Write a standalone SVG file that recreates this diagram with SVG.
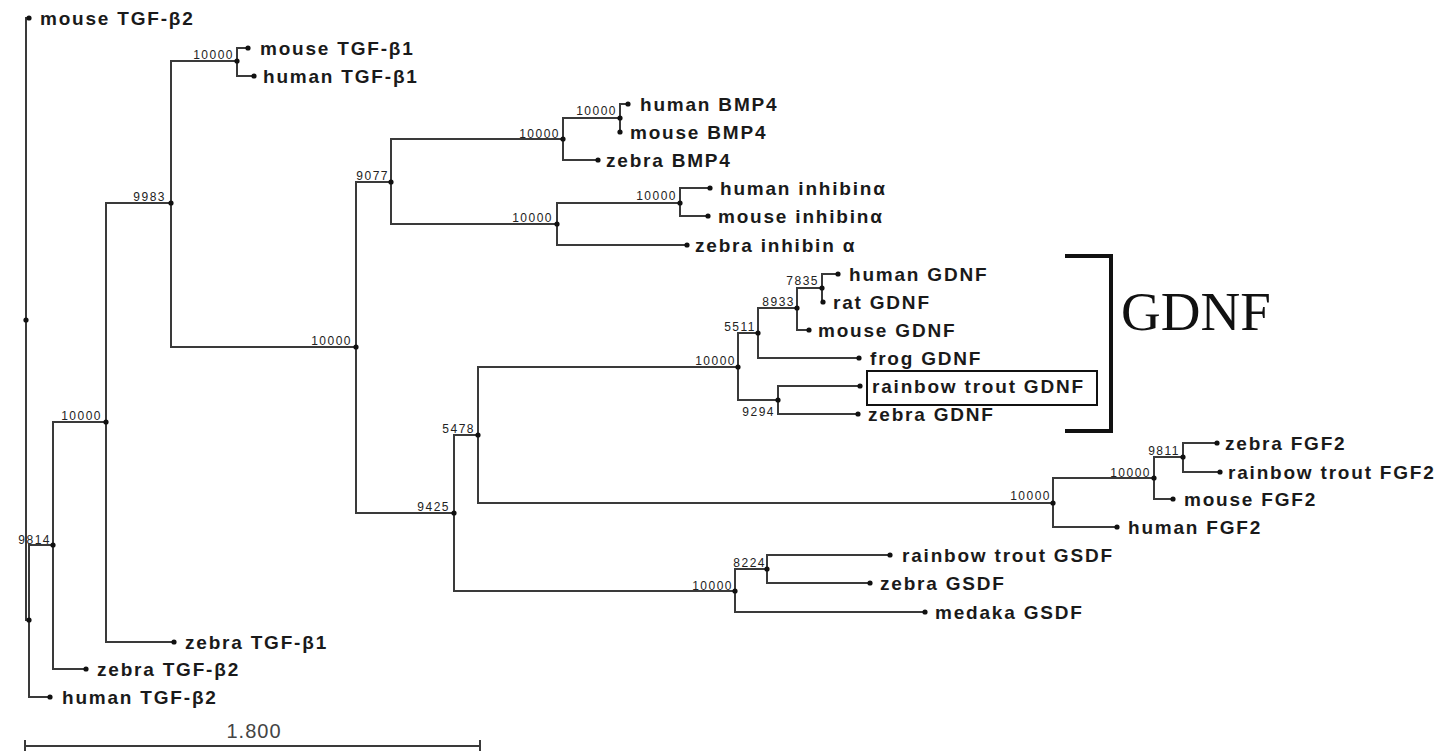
<svg xmlns="http://www.w3.org/2000/svg" width="1443" height="751" viewBox="0 0 1443 751">
<style>
.bg{fill:#ffffff}
.br{fill:none;stroke:#3a3a3a;stroke-width:2}
.dot{fill:#111}
.lf{font-family:"Liberation Sans",Arial,sans-serif;font-weight:bold;font-size:19px;letter-spacing:1.8px;fill:#1a1a1a}
.bs{font-family:"Liberation Sans",Arial,sans-serif;font-size:12px;letter-spacing:1.5px;fill:#222;text-anchor:end}
.big{font-family:"Liberation Serif","Times New Roman",serif;font-size:55px;fill:#111}
.scl{font-family:"Liberation Sans",Arial,sans-serif;font-size:20px;letter-spacing:1px;fill:#444;text-anchor:middle}
</style>
<rect class="bg" x="0" y="0" width="1443" height="751"/>
<g id="connectors">
<path class="br" d="M29 18 H26 V620 H29"/>
<path class="br" d="M53 545 H29 V697 H50"/>
<path class="br" d="M106 422 H53 V669 H86"/>
<path class="br" d="M171 203 H106 V642 H174"/>
<path class="br" d="M237 61 H171 V347 H356"/>
<path class="br" d="M248 48 H237 V76 H254"/>
<path class="br" d="M391 182 H356 V513 H454"/>
<path class="br" d="M563 139 H391 V224 H557"/>
<path class="br" d="M620 118 H563 V160 H598"/>
<path class="br" d="M628 104 H620 V132"/>
<path class="br" d="M680 203 H557 V245 H687"/>
<path class="br" d="M710 188 H680 V216 H708"/>
<path class="br" d="M478 435 H454 V591 H735"/>
<path class="br" d="M738 367 H478 V503 H1053"/>
<path class="br" d="M758 333 H738 V400 H778"/>
<path class="br" d="M797 308 H758 V358 H859"/>
<path class="br" d="M822 288 H797 V330 H809"/>
<path class="br" d="M838 274 H822 V302 H823"/>
<path class="br" d="M860 386 H778 V414 H858"/>
<path class="br" d="M1154 478 H1053 V527 H1117"/>
<path class="br" d="M1183 457 H1154 V499 H1173"/>
<path class="br" d="M1217 443 H1183 V472 H1220"/>
<path class="br" d="M767 569 H735 V612 H925"/>
<path class="br" d="M890 555 H767 V583 H870"/>
</g>
<g id="internal-nodes">
<g id="n-root"><circle class="dot" cx="26" cy="320" r="2.6"/></g>
<g id="n-a"><circle class="dot" cx="29" cy="620" r="2.6"/></g>
<g id="n-9814"><circle class="dot" cx="53" cy="545" r="2.6"/><text class="bs" x="51" y="544">9814</text></g>
<g id="n-10000-a"><circle class="dot" cx="106" cy="422" r="2.6"/><text class="bs" x="102" y="420">10000</text></g>
<g id="n-9983"><circle class="dot" cx="171" cy="203" r="2.6"/><text class="bs" x="166" y="201">9983</text></g>
<g id="n-10000-tgfb1"><circle class="dot" cx="237" cy="61" r="2.6"/><text class="bs" x="234" y="59">10000</text></g>
<g id="n-10000-b"><circle class="dot" cx="356" cy="347" r="2.6"/><text class="bs" x="352" y="345">10000</text></g>
<g id="n-9077"><circle class="dot" cx="391" cy="182" r="2.6"/><text class="bs" x="389" y="180">9077</text></g>
<g id="n-10000-bmp"><circle class="dot" cx="563" cy="139" r="2.6"/><text class="bs" x="560" y="138">10000</text></g>
<g id="n-10000-bmp2"><circle class="dot" cx="620" cy="118" r="2.6"/><text class="bs" x="617" y="115">10000</text></g>
<g id="n-10000-inh"><circle class="dot" cx="557" cy="224" r="2.6"/><text class="bs" x="553" y="222">10000</text></g>
<g id="n-10000-inh2"><circle class="dot" cx="680" cy="203" r="2.6"/><text class="bs" x="677" y="200">10000</text></g>
<g id="n-9425"><circle class="dot" cx="454" cy="513" r="2.6"/><text class="bs" x="450" y="511">9425</text></g>
<g id="n-5478"><circle class="dot" cx="478" cy="435" r="2.6"/><text class="bs" x="475" y="433">5478</text></g>
<g id="n-10000-gdnf"><circle class="dot" cx="738" cy="367" r="2.6"/><text class="bs" x="736" y="365">10000</text></g>
<g id="n-5511"><circle class="dot" cx="758" cy="333" r="2.6"/><text class="bs" x="756" y="331">5511</text></g>
<g id="n-8933"><circle class="dot" cx="797" cy="308" r="2.6"/><text class="bs" x="795" y="306">8933</text></g>
<g id="n-7835"><circle class="dot" cx="822" cy="288" r="2.6"/><text class="bs" x="819" y="285">7835</text></g>
<g id="n-9294"><circle class="dot" cx="778" cy="400" r="2.6"/><text class="bs" x="775" y="416">9294</text></g>
<g id="n-10000-fgf"><circle class="dot" cx="1053" cy="503" r="2.6"/><text class="bs" x="1051" y="500">10000</text></g>
<g id="n-10000-fgf2"><circle class="dot" cx="1154" cy="478" r="2.6"/><text class="bs" x="1151" y="477">10000</text></g>
<g id="n-9811"><circle class="dot" cx="1183" cy="457" r="2.6"/><text class="bs" x="1180" y="455">9811</text></g>
<g id="n-10000-gsdf"><circle class="dot" cx="735" cy="591" r="2.6"/><text class="bs" x="733" y="590">10000</text></g>
<g id="n-8224"><circle class="dot" cx="767" cy="569" r="2.6"/><text class="bs" x="766" y="567">8224</text></g>
</g>
<g id="leaves">
<g id="l-mouse-tgfb2"><circle class="dot" cx="29" cy="18" r="2.6"/><text class="lf" x="40" y="25">mouse TGF-β2</text></g>
<g id="l-mouse-tgfb1"><circle class="dot" cx="248" cy="48" r="2.6"/><text class="lf" x="260" y="55">mouse TGF-β1</text></g>
<g id="l-human-tgfb1"><circle class="dot" cx="254" cy="76" r="2.6"/><text class="lf" x="263" y="83">human TGF-β1</text></g>
<g id="l-human-bmp4"><circle class="dot" cx="628" cy="104" r="2.6"/><text class="lf" x="640" y="111">human BMP4</text></g>
<g id="l-mouse-bmp4"><circle class="dot" cx="620" cy="132" r="2.6"/><text class="lf" x="630" y="139">mouse BMP4</text></g>
<g id="l-zebra-bmp4"><circle class="dot" cx="598" cy="160" r="2.6"/><text class="lf" x="606" y="167">zebra BMP4</text></g>
<g id="l-human-inh"><circle class="dot" cx="710" cy="188" r="2.6"/><text class="lf" x="720" y="195">human inhibinα</text></g>
<g id="l-mouse-inh"><circle class="dot" cx="708" cy="216" r="2.6"/><text class="lf" x="718" y="223">mouse inhibinα</text></g>
<g id="l-zebra-inh"><circle class="dot" cx="687" cy="245" r="2.6"/><text class="lf" x="695" y="252">zebra inhibin α</text></g>
<g id="l-human-gdnf"><circle class="dot" cx="838" cy="274" r="2.6"/><text class="lf" x="849" y="281">human GDNF</text></g>
<g id="l-rat-gdnf"><circle class="dot" cx="823" cy="302" r="2.6"/><text class="lf" x="833" y="309">rat GDNF</text></g>
<g id="l-mouse-gdnf"><circle class="dot" cx="809" cy="330" r="2.6"/><text class="lf" x="818" y="337">mouse GDNF</text></g>
<g id="l-frog-gdnf"><circle class="dot" cx="859" cy="358" r="2.6"/><text class="lf" x="870" y="365">frog GDNF</text></g>
<g id="l-trout-gdnf"><circle class="dot" cx="860" cy="386" r="2.6"/><rect x="867" y="371" width="230" height="34" fill="none" stroke="#111" stroke-width="2"/><text class="lf" x="872" y="393">rainbow trout GDNF</text></g>
<g id="l-zebra-gdnf"><circle class="dot" cx="858" cy="414" r="2.6"/><text class="lf" x="868" y="421">zebra GDNF</text></g>
<g id="l-zebra-fgf2"><circle class="dot" cx="1217" cy="443" r="2.6"/><text class="lf" x="1225" y="450">zebra FGF2</text></g>
<g id="l-trout-fgf2"><circle class="dot" cx="1220" cy="472" r="2.6"/><text class="lf" x="1228" y="479">rainbow trout FGF2</text></g>
<g id="l-mouse-fgf2"><circle class="dot" cx="1173" cy="499" r="2.6"/><text class="lf" x="1184" y="506">mouse FGF2</text></g>
<g id="l-human-fgf2"><circle class="dot" cx="1117" cy="527" r="2.6"/><text class="lf" x="1128" y="534">human FGF2</text></g>
<g id="l-trout-gsdf"><circle class="dot" cx="890" cy="555" r="2.6"/><text class="lf" x="902" y="562">rainbow trout GSDF</text></g>
<g id="l-zebra-gsdf"><circle class="dot" cx="870" cy="583" r="2.6"/><text class="lf" x="880" y="590">zebra GSDF</text></g>
<g id="l-medaka-gsdf"><circle class="dot" cx="925" cy="612" r="2.6"/><text class="lf" x="935" y="619">medaka GSDF</text></g>
<g id="l-zebra-tgfb1"><circle class="dot" cx="174" cy="642" r="2.6"/><text class="lf" x="185" y="649">zebra TGF-β1</text></g>
<g id="l-zebra-tgfb2"><circle class="dot" cx="86" cy="669" r="2.6"/><text class="lf" x="97" y="676">zebra TGF-β2</text></g>
<g id="l-human-tgfb2"><circle class="dot" cx="50" cy="697" r="2.6"/><text class="lf" x="62" y="704">human TGF-β2</text></g>
</g>
<g id="gdnf-bracket">
<path d="M1065 256 H1111 V431 H1065" fill="none" stroke="#111" stroke-width="4"/>
<text class="big" x="1121" y="330">GDNF</text>
</g>
<g id="scale-bar">
<path d="M25 746 H480 M25 740 V751 M480 740 V751" fill="none" stroke="#3a3a3a" stroke-width="2"/>
<text class="scl" x="254" y="738">1.800</text>
</g>
</svg>
